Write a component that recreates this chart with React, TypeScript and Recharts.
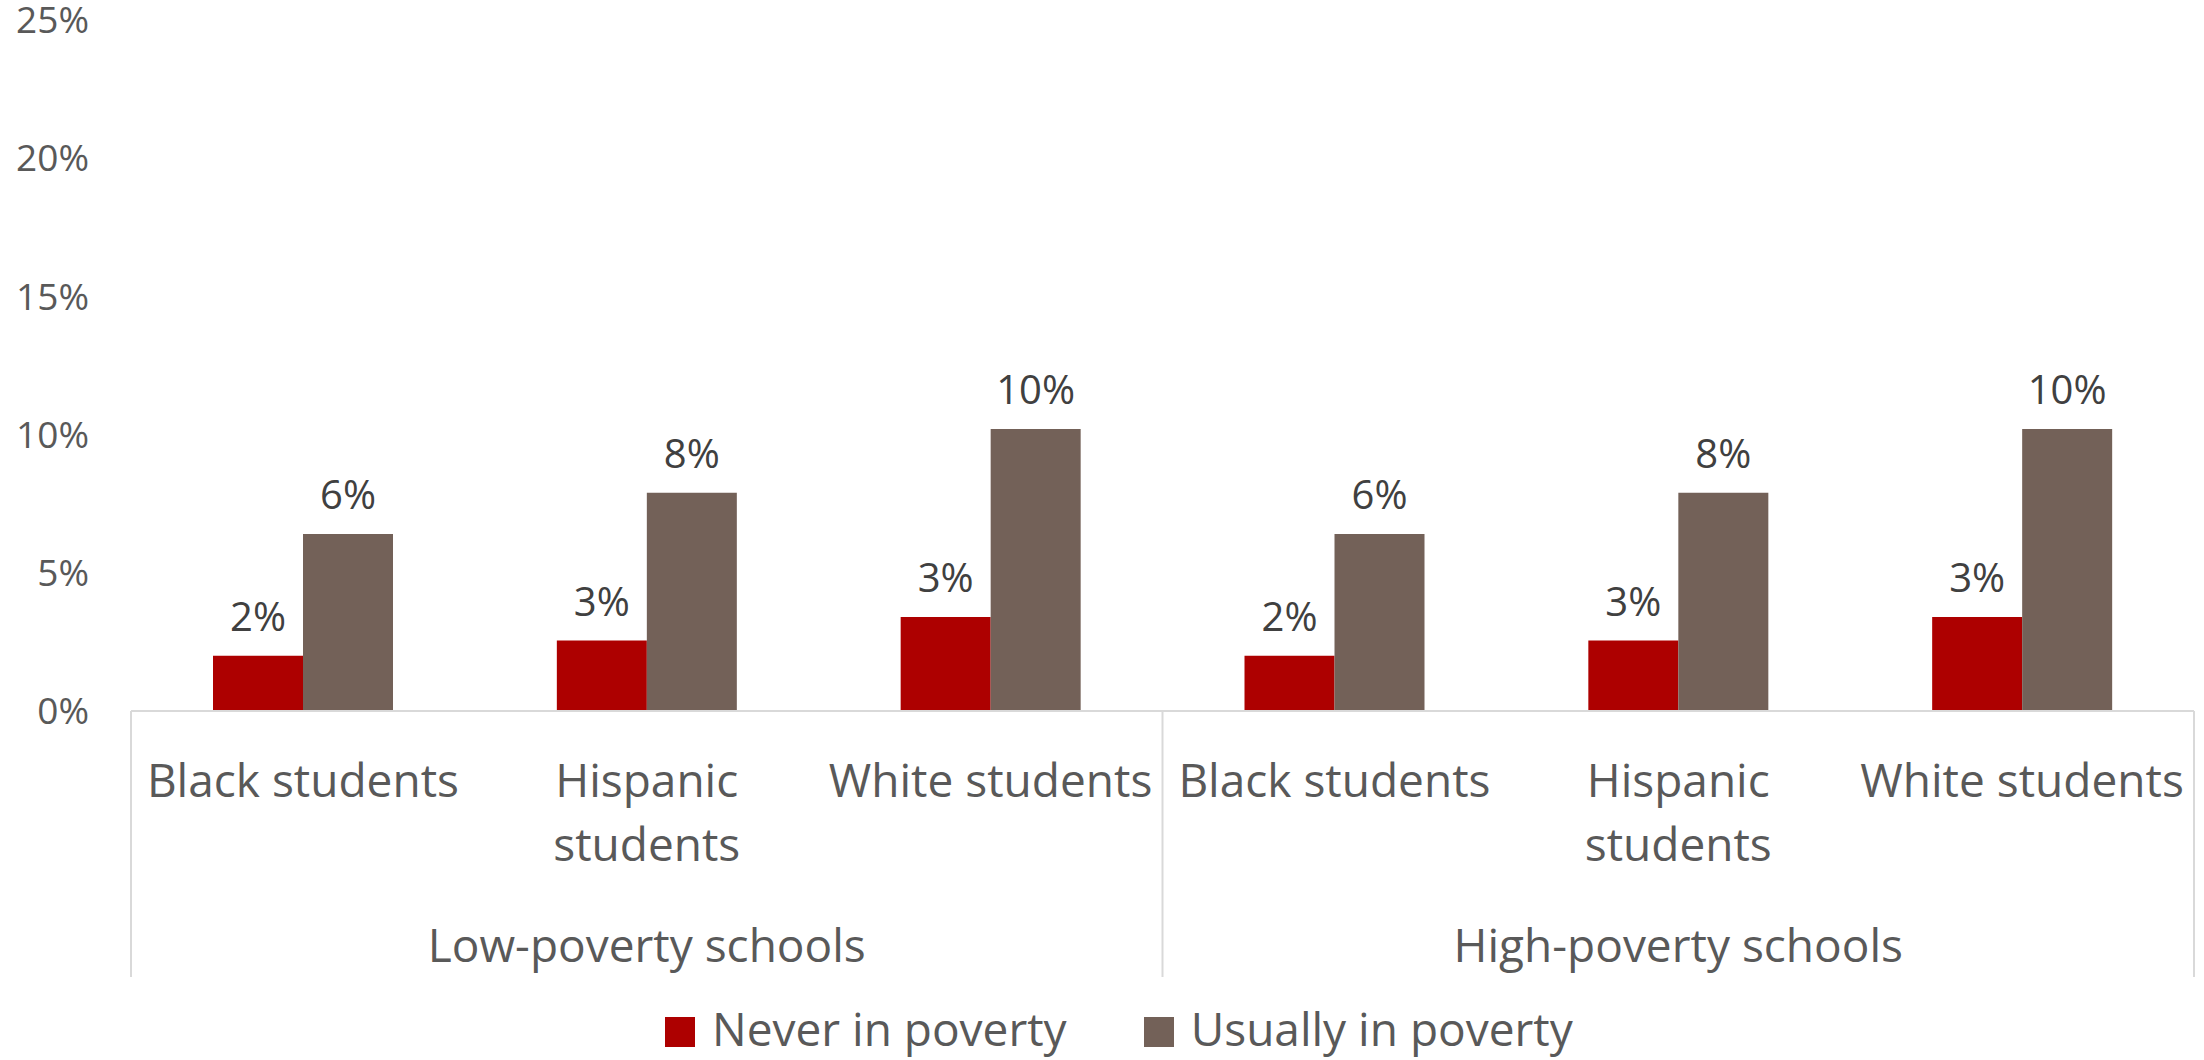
import React from "react"
import { BarChart, Bar, XAxis, YAxis, Legend, LabelList } from "recharts"

const GROUPS = ["Low-poverty schools", "High-poverty schools"]
const RACES = ["Black students", "Hispanic students", "White students"]
const NEVER_IN_POVERTY = [2.0, 2.55, 3.4, 2.0, 2.55, 3.4]
const USUALLY_IN_POVERTY = [6.4, 7.9, 10.2, 6.4, 7.9, 10.2]
const Y_TICKS = [0, 5, 10, 15, 20, 25]

// Excel wrapped this one label onto two lines
const WRAPPED: Record<string, string[]> = {
  "Hispanic students": ["Hispanic", "students"],
}

const data = GROUPS.flatMap((group, g) =>
  RACES.map((race, r) => {
    const i = g * RACES.length + r
    return {
      key: `${g}-${r}`,
      group,
      race,
      never: NEVER_IN_POVERTY[i],
      usually: USUALLY_IN_POVERTY[i],
    }
  })
)

const W = 2204
const H = 1060
const MARGIN = { top: 20, right: 10, left: 0, bottom: 0 }
const Y_AXIS_W = 131
const LEGEND_H = 72
const X_AXIS_H = 277
const BAND_HALF = (W - MARGIN.left - MARGIN.right - Y_AXIS_W) / data.length / 2

const FONT = "'Open Sans', 'Noto Sans', sans-serif"
const AXIS_TEXT = "#595959"
const GRID = "#D9D9D9"

function CategoryTick(props: any) {
  const { x, y, index } = props
  const row = data[index]
  if (!row) return null
  const lines = WRAPPED[row.race] ?? [row.race]
  const inGroup = index % RACES.length
  return (
    <g>
      {lines.map((ln, k) => (
        <text
          key={k}
          x={x}
          y={y + 86 + k * 64}
          textAnchor="middle"
          fill={AXIS_TEXT}
          fontSize={46}
          fontFamily={FONT}
        >
          {ln}
        </text>
      ))}
      {inGroup === 1 && (
        <text x={x} y={y + 251} textAnchor="middle" fill={AXIS_TEXT} fontSize={46} fontFamily={FONT}>
          {row.group}
        </text>
      )}
      {inGroup === 0 && (
        <line x1={x - BAND_HALF} x2={x - BAND_HALF} y1={y} y2={y + 266} stroke={GRID} strokeWidth={2} />
      )}
      {index === data.length - 1 && (
        <line x1={x + BAND_HALF} x2={x + BAND_HALF} y1={y} y2={y + 266} stroke={GRID} strokeWidth={2} />
      )}
    </g>
  )
}

function LegendContent(props: any) {
  const items = props.payload ?? []
  return (
    <div
      style={{
        height: LEGEND_H,
        width: W,
        display: "flex",
        alignItems: "flex-start",
        paddingLeft: 665,
        paddingTop: 17,
        boxSizing: "border-box",
        fontFamily: FONT,
        fontSize: 46,
        lineHeight: "46px",
        color: AXIS_TEXT,
      }}
    >
      {items.map((it: any, i: number) => (
        <div key={i} style={{ display: "flex", alignItems: "flex-start", marginRight: 77 }}>
          <span style={{ width: 30, height: 30, background: it.color, marginTop: 12, marginRight: 17 }} />
          <span>{it.value}</span>
        </div>
      ))}
    </div>
  )
}

const pct = (v: any) => `${Math.round(Number(v))}%`

export default function App() {
  return (
    <div style={{ position: "absolute", left: 0, top: 0, background: "#fff" }}>
      <BarChart width={W} height={H} data={data} margin={MARGIN} barGap={0}>
        <XAxis
          dataKey="key"
          interval={0}
          height={X_AXIS_H}
          tickLine={false}
          tickSize={0}
          tickMargin={0}
          axisLine={{ stroke: GRID, strokeWidth: 2 }}
          tick={CategoryTick}
        />
        <YAxis
          width={Y_AXIS_W}
          domain={[0, 25]}
          ticks={Y_TICKS}
          interval={0}
          tickFormatter={(v: number) => `${v}%`}
          axisLine={false}
          tickLine={false}
          tickSize={0}
          tickMargin={42}
          tick={{ fill: AXIS_TEXT, fontSize: 37, fontFamily: FONT }}
        />
        <Legend
          verticalAlign="bottom"
          content={LegendContent}
          wrapperStyle={{ left: 0, bottom: 0, width: W, height: LEGEND_H }}
        />
        <Bar dataKey="never" name="Never in poverty" fill="#AD0000" barSize={90} isAnimationActive={false}>
          <LabelList
            dataKey="never"
            position="top"
            offset={25}
            formatter={pct}
            fill="#404040"
            fontSize={40}
            fontFamily={FONT}
          />
        </Bar>
        <Bar dataKey="usually" name="Usually in poverty" fill="#736158" barSize={90} isAnimationActive={false}>
          <LabelList
            dataKey="usually"
            position="top"
            offset={25}
            formatter={pct}
            fill="#404040"
            fontSize={40}
            fontFamily={FONT}
          />
        </Bar>
      </BarChart>
    </div>
  )
}
